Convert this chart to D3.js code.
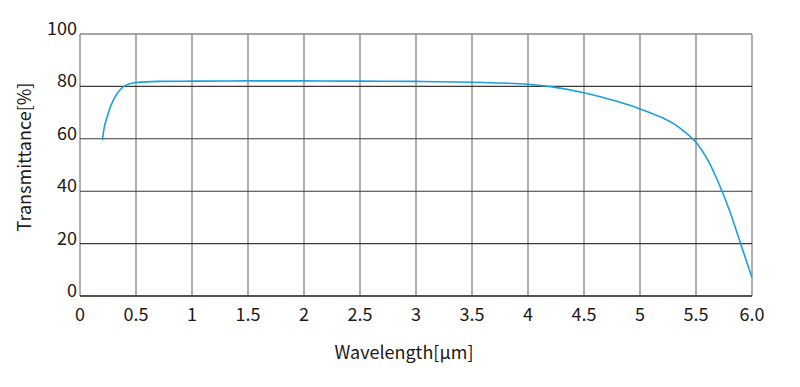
<!DOCTYPE html>
<html>
<head>
<meta charset="utf-8">
<script src="https://cdn.jsdelivr.net/npm/d3@7"></script>
<style>
  body { margin: 0; background: #fff; }
  text { font-family: "Noto Sans CJK JP", "Noto Sans", sans-serif; fill: #231815; }
</style>
</head>
<body>
<div id="chart"></div>
<script>
// wavelength [um] and transmittance [%]
let wavelength = [0.2, 0.215, 0.24, 0.27, 0.32, 0.36, 0.41, 0.5, 0.7, 1.0, 1.5, 2.0, 2.5, 3.0, 3.5, 4.0, 4.2, 4.5, 4.8, 5.0, 5.2, 5.3, 5.4, 5.5, 5.6, 5.7, 5.8, 5.9, 6.0];
let transmittance = [59.5, 64, 68, 72, 76.5, 78.8, 80.5, 81.5, 81.9, 82.0, 82.1, 82.1, 82.0, 81.9, 81.6, 80.8, 79.9, 77.6, 74.2, 71.4, 68.0, 65.8, 62.6, 58.7, 52.3, 43.3, 32.5, 19.8, 7.0];
let xTicks = [0, 0.5, 1, 1.5, 2, 2.5, 3, 3.5, 4, 4.5, 5, 5.5, 6];
let xTickLabels = ["0", "0.5", "1", "1.5", "2", "2.5", "3", "3.5", "4", "4.5", "5", "5.5", "6.0"];
let yTicks = [0, 20, 40, 60, 80, 100];

const dims = { width: 800, height: 387, left: 80, right: 752, top: 34, bottom: 296 };

const svg = d3.select("#chart").append("svg")
  .attr("width", dims.width).attr("height", dims.height);

const x = d3.scaleLinear().domain([0, 6]).range([dims.left, dims.right]);
const y = d3.scaleLinear().domain([0, 100]).range([dims.bottom, dims.top]);

// vertical grid (gray)
svg.append("g")
  .selectAll("line")
  .data(xTicks)
  .join("line")
  .attr("x1", d => x(d)).attr("x2", d => x(d))
  .attr("y1", dims.top).attr("y2", dims.bottom)
  .attr("stroke", "#8a8585")
  .attr("stroke-width", 1.3);

// horizontal grid (dark)
svg.append("g")
  .selectAll("line")
  .data(yTicks.filter(d => d > 0 && d < 100))
  .join("line")
  .attr("x1", dims.left).attr("x2", dims.right)
  .attr("y1", d => y(d)).attr("y2", d => y(d))
  .attr("stroke", "#3e3a39")
  .attr("stroke-width", 1.1);

// top border
svg.append("line")
  .attr("x1", dims.left).attr("x2", dims.right)
  .attr("y1", y(100)).attr("y2", y(100))
  .attr("stroke", "#8a8585").attr("stroke-width", 1.3);

// bottom axis
svg.append("line")
  .attr("x1", dims.left).attr("x2", dims.right)
  .attr("y1", y(0)).attr("y2", y(0))
  .attr("stroke", "#231815").attr("stroke-width", 1.3);

// curve
const line = d3.line()
  .x((d, i) => x(wavelength[i]))
  .y(d => y(d))
  .curve(d3.curveMonotoneX);

svg.append("path")
  .datum(transmittance)
  .attr("d", line)
  .attr("fill", "none")
  .attr("stroke", "#1a9fe0")
  .attr("stroke-width", 1.6);

// tick labels
svg.append("g")
  .selectAll("text")
  .data(xTicks)
  .join("text")
  .attr("x", d => x(d))
  .attr("y", 321)
  .attr("text-anchor", "middle")
  .style("font-size", "18px")
  .text((d, i) => xTickLabels[i]);

svg.append("g")
  .selectAll("text")
  .data(yTicks)
  .join("text")
  .attr("x", 77)
  .attr("y", d => y(d) + 1)
  .attr("text-anchor", "end")
  .style("font-size", "18px")
  .text(d => d);

// axis titles
svg.append("text")
  .attr("x", 404)
  .attr("y", 359)
  .attr("text-anchor", "middle")
  .style("font-size", "18px")
  .text("Wavelength[µm]");

svg.append("text")
  .attr("transform", "translate(31,157) rotate(-90)")
  .attr("text-anchor", "middle")
  .style("font-size", "18px")
  .text("Transmittance[%]");
</script>
</body>
</html>
